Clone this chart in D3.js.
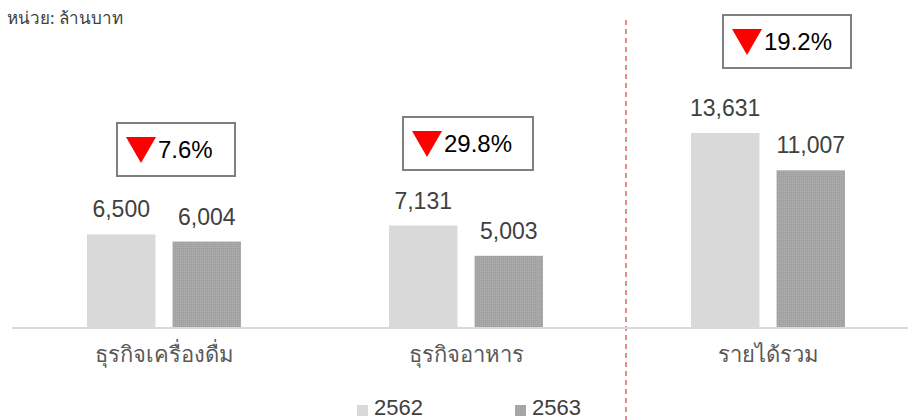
<!DOCTYPE html>
<html><head><meta charset="utf-8">
<script src="https://cdn.jsdelivr.net/npm/d3@7"></script>
<style>body{margin:0;background:#fff}svg{display:block}</style>
</head><body>
<script>
const categories = ["ธุรกิจเครื่องดื่ม", "ธุรกิจอาหาร", "รายได้รวม"];
const seriesNames = ["2562", "2563"];
const values2562 = [6500, 7131, 13631];
const values2563 = [6004, 5003, 11007];
const changeLabels = ["7.6%", "29.8%", "19.2%"];
const unitLabel = "หน่วย: ล้านบาท";

const W = 908, H = 420;
const colors = ["#d9d9d9", "#a6a6a6"];
const svg = d3.select("body").append("svg").attr("width", W).attr("height", H);

const defs = svg.append("defs");
const pat = defs.append("pattern").attr("id","tex").attr("width",2).attr("height",2).attr("patternUnits","userSpaceOnUse");
pat.append("rect").attr("width",2).attr("height",2).attr("fill","#a6a6a6");
pat.append("rect").attr("width",1).attr("height",1).attr("fill","#9f9f9f");
pat.append("rect").attr("x",1).attr("y",1).attr("width",1).attr("height",1).attr("fill","#adadad");

const x0 = d3.scaleBand().domain(categories).range([13, 919]);
const x1 = d3.scaleBand().domain(seriesNames).range([74, 228]).paddingInner(0.2);
const y = d3.scaleLinear().domain([0, 15000]).range([327, 113.5]);

const data = categories.map((c, i) => ({cat: c, vals: [values2562[i], values2563[i]], pct: changeLabels[i]}));

// unit label
svg.append("text").attr("x", 7).attr("y", 24).attr("font-family", "Tahoma, 'Noto Sans', sans-serif")
  .attr("font-size", 17).attr("fill", "#404040").text(unitLabel);

// separator dashed line
svg.append("line").attr("x1", 626).attr("x2", 626).attr("y1", 20).attr("y2", H)
  .attr("stroke", "#d9646a").attr("stroke-width", 1.5).attr("stroke-dasharray", "5,4");

const g = svg.selectAll("g.grp").data(data).join("g").attr("class","grp")
  .attr("transform", d => `translate(${x0(d.cat)},0)`);

g.selectAll("rect.bar").data(d => d.vals.map((v, k) => ({v, k}))).join("rect")
  .attr("class","bar")
  .attr("x", d => x1(seriesNames[d.k]))
  .attr("width", x1.bandwidth())
  .attr("y", d => y(d.v))
  .attr("height", d => y(0) - y(d.v))
  .attr("fill", d => d.k === 0 ? colors[0] : "url(#tex)");

g.selectAll("text.val").data(d => d.vals.map((v, k) => ({v, k}))).join("text")
  .attr("class","val")
  .attr("x", d => x1(seriesNames[d.k]) + x1.bandwidth() / 2)
  .attr("y", d => y(d.v) - 17)
  .attr("text-anchor", "middle")
  .attr("font-family", "Arial, 'Liberation Sans', sans-serif")
  .attr("font-size", 23).attr("fill", "#404040")
  .text(d => d3.format(",")(d.v));

// axis baseline
svg.append("line").attr("x1", 12).attr("x2", 908).attr("y1", y(0) + 1).attr("y2", y(0) + 1)
  .attr("stroke", "#d9d9d9").attr("stroke-width", 2);

// category labels
const xAxis = d3.axisBottom(x0).tickSize(0).tickPadding(0);
const ax = svg.append("g").attr("transform", `translate(0,${y(0) + 19})`).call(xAxis);
ax.select(".domain").remove();
ax.selectAll("text").attr("font-family", "Tahoma, 'Noto Sans', sans-serif")
  .attr("font-size", 22).attr("fill", "#595959").attr("dy", "0.71em");

// callout boxes
const boxPos = [[117, 123], [403, 117], [723, 15]];
const boxW = [118, 130, 128];
const cb = svg.selectAll("g.call").data(data).join("g").attr("class", "call")
  .attr("transform", (d, i) => `translate(${boxPos[i][0]},${boxPos[i][1]})`);
cb.append("rect").attr("x", 0).attr("y", 0).attr("width", (d, i) => boxW[i]).attr("height", 53)
  .attr("fill", "#fff").attr("stroke", "#7f7f7f").attr("stroke-width", 2);
cb.append("path").attr("d", "M9,14 L39,14 L24,40 Z").attr("fill", "#ff0000");
cb.append("text").attr("x", 41).attr("y", 35).attr("font-family", "Arial, 'Liberation Sans', sans-serif")
  .attr("font-size", 24).attr("fill", "#000").text(d => d.pct);

// legend
const lg = svg.append("g");
const lx = [357, 515];
seriesNames.forEach((s, i) => {
  lg.append("rect").attr("x", lx[i]).attr("y", 405).attr("width", 11).attr("height", 11)
    .attr("fill", i === 0 ? colors[0] : "url(#tex)");
  lg.append("text").attr("x", lx[i] + 17).attr("y", 415).attr("font-family", "Arial, 'Liberation Sans', sans-serif")
    .attr("font-size", 22).attr("fill", "#404040").text(s);
});
</script>
</body></html>
